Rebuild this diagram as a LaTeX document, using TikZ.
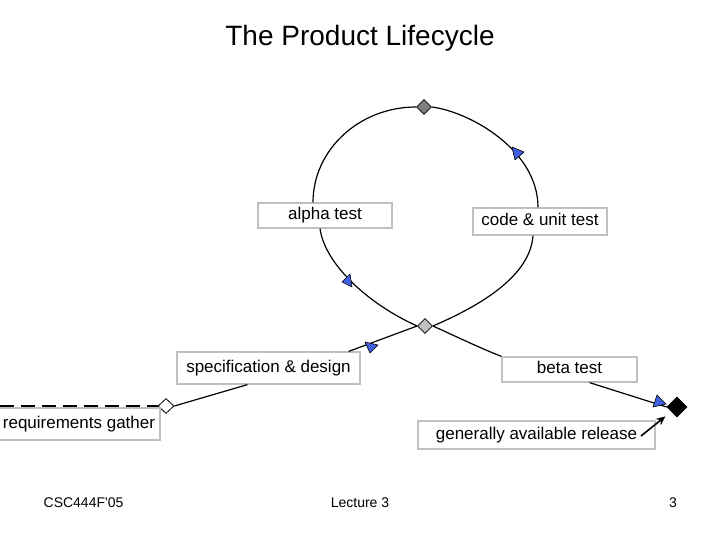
\documentclass[tikz,border=0pt]{standalone}
\usepackage{fontspec}
\setmainfont{Liberation Sans}
\usetikzlibrary{shapes.geometric,arrows.meta}
\definecolor{boxgray}{RGB}{192,192,192}
\definecolor{tri}{RGB}{64,96,224}
\definecolor{darkdia}{RGB}{128,128,128}
\definecolor{lightdia}{RGB}{192,192,192}
\begin{document}
\begin{tikzpicture}[x=1pt,y=-1pt,
  lbl/.style={draw=boxgray, line width=1.2pt, fill=white, inner sep=0pt,
    font=\fontsize{17}{20}\selectfont, text height=12.3pt, text depth=3.6pt},
  dia/.style={diamond, draw=black, line width=0.8pt, inner sep=0pt,
    minimum width=15pt, minimum height=15pt},
  flow/.style={line width=1.2pt},
  tipmark/.style={fill=tri, draw=black, line width=0.6pt, line join=round},
  foot/.style={font=\fontsize{14}{16}\selectfont}]
\useasboundingbox (0,0) rectangle (720,540);

\node[font=\fontsize{28}{32}\selectfont, anchor=base] (title) at (360,46) {The Product Lifecycle};

% decision / merge diamonds
\node[dia, fill=darkdia] (topd) at (424,107) {};
\node[dia, fill=lightdia] (midd) at (425,326) {};
\node[dia, fill=white, minimum width=16pt] (whited) at (166,406) {};
\node[dia, fill=black, minimum width=20pt, minimum height=20pt] (blackd) at (677,407) {};

% label boxes
\node[lbl, minimum width=134pt, minimum height=25pt] (alpha) at (325,215.5) {alpha test};
\node[lbl, minimum width=134pt, minimum height=27pt] (code) at (540,221.5) {code \& unit test};
\node[lbl, minimum width=183pt, minimum height=32pt] (spec) at (268.5,368) {specification \& design};
\node[lbl, minimum width=135pt, minimum height=25pt] (beta) at (569.5,369.5) {beta test};
\node[lbl, minimum width=162pt, minimum height=32pt] (req) at (79,424) {requirements gather};
\node[lbl, minimum width=237pt, minimum height=28pt] (ga) at (536.5,435) {generally available release};

% connectors
\coordinate (dashstart) at (0,406);
\draw[line width=2pt, dash pattern=on 14pt off 7pt] (dashstart) -- (whited.west);
\draw[flow] (whited.east) -- ([xshift=-21pt]spec.south);
\draw[flow] ([xshift=-12pt]spec.north east) -- (midd.west);
\draw[flow] (topd.west) .. controls (359,107) and (313,150) .. ([xshift=-12pt]alpha.north);
\draw[flow] ([xshift=-5pt]alpha.south) .. controls (325,265) and (370,305) .. (midd.west);
\draw[flow] (topd.east) .. controls (470,112) and (538,150) .. ([xshift=-2pt]code.north);
\draw[flow] ([xshift=-7pt]code.south) .. controls (530,280) and (470,310) .. (midd.east);
\draw[flow] (midd.east) .. controls (455,336) and (480,348) .. (beta.north west);
\draw[flow] ([xshift=20pt]beta.south) -- (blackd.west);

% arrow marks on the flows
\filldraw[tipmark] (512,147) -- (524,152) -- (515,160) -- cycle;
\filldraw[tipmark] (350,274) -- (342,282) -- (352,287) -- cycle;
\filldraw[tipmark] (365,342) -- (378,345) -- (370,353) -- cycle;
\filldraw[tipmark] (657,395) -- (666,404) -- (653,407) -- cycle;

% release pointer
\coordinate (gastart) at (641,436);
\draw[line width=1.6pt, -{Stealth[length=9pt,width=8pt]}, shorten >=15pt] (gastart) -- (blackd.center);

% footer
\node[foot] (f1) at (83.5,503) {CSC444F\textquotesingle 05};
\node[foot] (f2) at (360,503) {Lecture 3};
\node[foot] (f3) at (673,503) {3};
\end{tikzpicture}
\end{document}
